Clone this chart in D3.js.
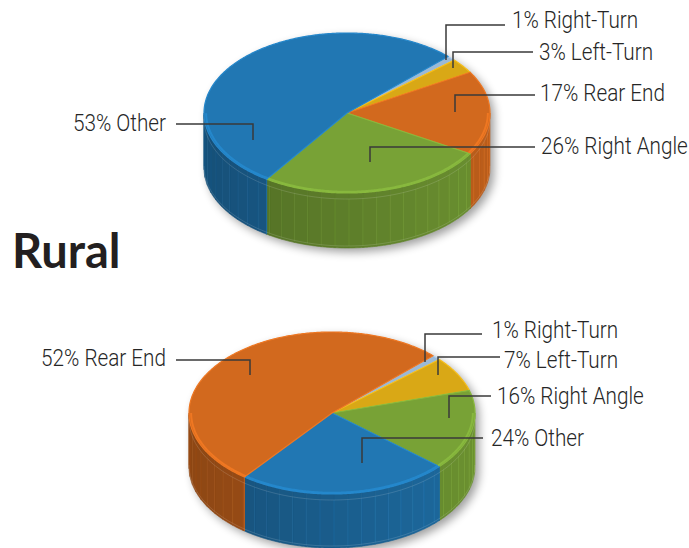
<!DOCTYPE html>
<html>
<head>
<meta charset="utf-8">
<script src="https://cdn.jsdelivr.net/npm/d3@7"></script>
<style>
  html, body { margin: 0; padding: 0; background: #fff; }
  svg { display: block; }
  .lbl { font-family: Roboto, "Liberation Sans", sans-serif; font-weight: 300; font-size: 23px; fill: #262626; }
  .title { font-family: Lato, "Noto Sans", sans-serif; font-weight: 700; font-size: 47px; fill: #231f20; }
</style>
</head>
<body>
<svg id="chart" width="689" height="548"></svg>
<script>
// ---- data ----
const categories = ["Right-Turn", "Left-Turn", "Rear End", "Right Angle", "Other"];
const categoryColors = ["#9bb9d6", "#d9a816", "#d2691e", "#78a236", "#2177b3"];

const urbanCategories = ["Right-Turn", "Left-Turn", "Rear End", "Right Angle", "Other"];
const urbanValues = [1, 3, 17, 26, 53];

const ruralCategories = ["Right-Turn", "Left-Turn", "Right Angle", "Other", "Rear End"];
const ruralValues = [1, 7, 16, 24, 52];

const titleText = "Rural";

// ---- layout ----
const pieGeom = {
  urban: { cx: 347, cy: 113, rx: 143, ry: 80, depth: 55 },
  rural: { cx: 332, cy: 413, rx: 143, ry: 81, depth: 54 }
};
const labelScaleX = 0.9; // condensed look for the callout text
// label placement: anchor offset from pie centre, elbow height, text position
const urbanLabelLayout = [
  { ax: 99,  ay: -53, ly: 25,  lx: 505, tx: 512, ty: 28,  side: "r" },
  { ax: 106, ay: -45, ly: 52,  lx: 533, tx: 539, ty: 60,  side: "r" },
  { ax: 108, ay: -1,  ly: 95,  lx: 535, tx: 540, ty: 101, side: "r" },
  { ax: 23,  ay: 49,  ly: 147, lx: 535, tx: 541, ty: 154, side: "r" },
  { ax: -94, ay: 27,  ly: 124, lx: 176, tx: 166, ty: 131, side: "l" }
];
const ruralLabelLayout = [
  { ax: 93,  ay: -51, ly: 334, lx: 482, tx: 492, ty: 338, side: "r" },
  { ax: 106, ay: -38, ly: 357, lx: 500, tx: 504, ty: 368, side: "r" },
  { ax: 117, ay: 5,   ly: 396, lx: 491, tx: 497, ty: 404, side: "r" },
  { ax: 30,  ay: 50,  ly: 438, lx: 483, tx: 491, ty: 446, side: "r" },
  { ax: -82, ay: -38, ly: 360, lx: 176, tx: 166, ty: 366, side: "l" }
];

const color = d3.scaleOrdinal().domain(categories).range(categoryColors);
const svg = d3.select("#chart");
const defs = svg.append("defs");
defs.append("filter").attr("id", "soft").attr("x", "-20%").attr("y", "-20%").attr("width", "140%").attr("height", "140%")
  .append("feGaussianBlur").attr("stdDeviation", 5);

const TAU = Math.PI * 2;
const START = Math.PI / 4;

function shade(c, k) {
  const r = d3.rgb(c);
  return d3.rgb(r.r * k, r.g * k, r.b * k).formatHex();
}

function drawPie(key, cats, vals, layout) {
  const g0 = pieGeom[key];
  const P = (a, r, z) => [g0.cx + r * g0.rx * Math.sin(a), g0.cy - r * g0.ry * Math.cos(a) + (z || 0)];
  const line = d3.line();
  const data = cats.map((c, i) => ({ cat: c, value: vals[i] }));
  const arcs = d3.pie().sort(null).value(d => d.value)
    .startAngle(START).endAngle(START + TAU)(data);

  const g = svg.append("g").attr("class", "pie-" + key);

  // soft shadow of the whole disc
  const sil = [];
  for (let a = -Math.PI / 2; a <= Math.PI / 2 + 1e-9; a += 0.02) sil.push(P(a, 1, 0));
  for (let a = Math.PI / 2; a <= 3 * Math.PI / 2 + 1e-9; a += 0.02) sil.push(P(a, 1, g0.depth));
  g.append("path").attr("d", line(sil) + "Z")
    .attr("transform", "translate(4,4)")
    .attr("fill", "#000").attr("opacity", 0.38).attr("filter", "url(#soft)");

  // side walls: only the front half of the rim is visible
  const step = 5.6 * Math.PI / 180;
  const sideG = g.append("g");
  arcs.forEach(d => {
    const a0 = Math.max(d.startAngle, Math.PI / 2);
    const a1 = Math.min(d.endAngle, 3 * Math.PI / 2);
    if (a1 <= a0) return;
    const base = color(d.data.cat);
    // faceted strips
    let cuts = [a0];
    let t = Math.ceil(a0 / step) * step;
    while (t < a1) { if (t > a0 + 1e-6) cuts.push(t); t += step; }
    cuts.push(a1);
    for (let i = 0; i < cuts.length - 1; i++) {
      const s = cuts[i], e = cuts[i + 1];
      const pts = [];
      const n = Math.max(2, Math.ceil((e - s) / 0.01));
      for (let j = 0; j <= n; j++) pts.push(P(s + (e - s) * j / n, 1, 0));
      for (let j = n; j >= 0; j--) pts.push(P(s + (e - s) * j / n, 1, g0.depth));
      const mid = (s + e) / 2;
      const k = 0.78 + 0.11 * Math.sin(mid);
      const fill = shade(base, k);
      sideG.append("path").attr("d", line(pts) + "Z")
        .attr("fill", fill).attr("stroke", fill).attr("stroke-width", 0.6);
    }
    // seams between facets, fading out towards the dark left side
    cuts.slice(1, -1).forEach(a => {
      const vis = Math.max(0, 0.3 * (0.5 + 0.5 * Math.sin(a) + 0.5));
      sideG.append("line")
        .attr("x1", P(a, 1, 6)[0]).attr("y1", P(a, 1, 6)[1])
        .attr("x2", P(a, 1, g0.depth - 2)[0]).attr("y2", P(a, 1, g0.depth - 2)[1])
        .attr("stroke", d3.rgb(base).brighter(0.4)).attr("stroke-opacity", vis).attr("stroke-width", 0.8);
    });
    // slice edges on the rim
    [a0, a1].forEach(a => {
      if (a === Math.PI / 2 || a === 3 * Math.PI / 2) return;
      sideG.append("line")
        .attr("x1", P(a, 1, 0)[0]).attr("y1", P(a, 1, 0)[1])
        .attr("x2", P(a, 1, g0.depth)[0]).attr("y2", P(a, 1, g0.depth)[1])
        .attr("stroke", shade(base, 0.9)).attr("stroke-width", 1);
    });
  });

  // thin rim lines near the top and bottom of the wall
  [6, g0.depth - 2].forEach(z => {
    const pts = [];
    for (let a = Math.PI / 2; a <= 3 * Math.PI / 2 + 1e-9; a += 0.01) pts.push(P(a, 1, z));
    sideG.append("path").attr("d", line(pts)).attr("fill", "none")
      .attr("stroke", "#fff").attr("stroke-opacity", 0.18).attr("stroke-width", 0.8);
  });

  // top faces
  const topG = g.append("g");
  arcs.forEach(d => {
    const base = color(d.data.cat);
    const pts = [P(0, 0, 0)];
    const n = Math.max(2, Math.ceil((d.endAngle - d.startAngle) / 0.01));
    for (let j = 0; j <= n; j++) pts.push(P(d.startAngle + (d.endAngle - d.startAngle) * j / n, 1, 0));
    topG.append("path").attr("d", line(pts) + "Z")
      .attr("fill", base)
      .attr("stroke", d3.rgb(base).brighter(0.35)).attr("stroke-width", 1.2).attr("stroke-linejoin", "round");
  });
  // bevel highlight along the front edge of the top
  arcs.forEach(d => {
    const a0 = Math.max(d.startAngle, Math.PI / 2);
    const a1 = Math.min(d.endAngle, 3 * Math.PI / 2);
    if (a1 <= a0) return;
    const base = color(d.data.cat);
    const pts = [];
    for (let a = a0; a <= a1 + 1e-9; a += 0.01) pts.push(P(a, 0.985, 0));
    topG.append("path").attr("d", line(pts)).attr("fill", "none")
      .attr("stroke", d3.rgb(base).brighter(0.5)).attr("stroke-opacity", 0.7).attr("stroke-width", 2);
  });

  // leader lines and labels
  const lg = g.append("g");
  arcs.forEach((d, i) => {
    const L = layout[i];
    const ax = g0.cx + L.ax, ay = g0.cy + L.ay;
    lg.append("path")
      .attr("d", line([[ax, ay], [ax, L.ly], [L.lx, L.ly]]))
      .attr("fill", "none").attr("stroke", "#3a3a3a").attr("stroke-width", 1.5);
    lg.append("text").attr("class", "lbl")
      .attr("transform", `translate(${L.tx},${L.ty}) scale(${labelScaleX},1)`)
      .attr("text-anchor", L.side === "l" ? "end" : "start")
      .text(d3.format("d")(d.data.value) + "% " + d.data.cat);
  });
}

drawPie("urban", urbanCategories, urbanValues, urbanLabelLayout);
drawPie("rural", ruralCategories, ruralValues, ruralLabelLayout);

svg.append("text").attr("class", "title").attr("x", 12).attr("y", 268).text(titleText);
</script>
</body>
</html>
